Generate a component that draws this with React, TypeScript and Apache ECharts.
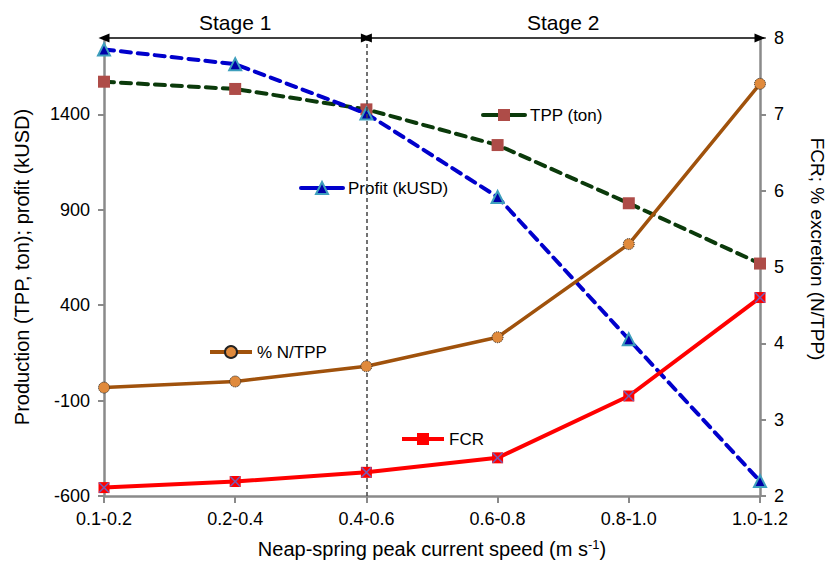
import React, { useEffect, useRef } from "react";
import * as echarts from "echarts";

const categories = ["0.1-0.2", "0.2-0.4", "0.4-0.6", "0.6-0.8", "0.8-1.0", "1.0-1.2"];
const tppTon = [1571, 1533, 1426, 1239, 934, 618];
const profitKUSD = [1740, 1663, 1404, 967, 221, -522];
const nPerTpp = [3.42, 3.5, 3.7, 4.08, 5.3, 7.4];
const fcr = [2.11, 2.19, 2.31, 2.5, 3.31, 4.6];
const leftRange = [-600, 1800];
const leftTicks = [-600, -100, 400, 900, 1400];
const rightRange = [2, 8];
const stageLabels = ["Stage 1", "Stage 2"];
const stageBounds = ["0.1-0.2", "0.4-0.6", "1.0-1.2"];
const seriesNames = ["TPP (ton)", "Profit (kUSD)", "% N/TPP", "FCR"];

const FONT = "'Liberation Sans', Arial, Helvetica, sans-serif";
const AXIS_COLOR = "#8a8a8a";
const X_PATH =
  "path://M0,1 L1,0 L5,4 L9,0 L10,1 L6,5 L10,9 L9,10 L5,6 L1,10 L0,9 L4,5 Z";

export default function App() {
  const ref = useRef<HTMLDivElement>(null);
  useEffect(() => {
    if (!ref.current) return;
    const chart = echarts.init(ref.current, undefined, { renderer: "svg" });
    const arrowEnd = (cat: string) => ({
      coord: [cat, leftRange[1]],
      symbol: "triangle",
      symbolSize: [9, 11],
    });
    const stageLines = stageLabels.map((label, i) => [
      {
        ...arrowEnd(stageBounds[i]),
        lineStyle: { color: "#000", type: "solid", width: 1.5 },
        label: {
          show: true,
          position: "middle",
          formatter: label,
          fontSize: 21,
          color: "#000",
          fontFamily: FONT,
          distance: 5,
        },
      },
      arrowEnd(stageBounds[i + 1]),
    ]);
    const legendBase = {
      orient: "horizontal",
      padding: 0,
      itemWidth: 42,
      itemHeight: 15,
      selectedMode: false,
      lineStyle: { type: "solid", width: 4 },
      textStyle: { fontSize: 17, color: "#000", fontFamily: FONT, lineHeight: 18 },
    };
    const option: any = {
      animation: false,
      backgroundColor: "#fff",
      textStyle: { fontFamily: FONT },
      grid: { left: 104, right: 68, top: 38, bottom: 62 },
      legend: [
        { ...legendBase, data: [seriesNames[0]], left: 481, top: 106 },
        { ...legendBase, data: [seriesNames[1]], left: 299, top: 179 },
        { ...legendBase, data: [seriesNames[2]], left: 208, top: 343 },
        { ...legendBase, data: [seriesNames[3]], left: 400, top: 430 },
      ],
      xAxis: {
        type: "category",
        data: categories,
        boundaryGap: false,
        axisLine: { onZero: false, lineStyle: { color: AXIS_COLOR, width: 2.5 } },
        axisTick: { alignWithLabel: true, length: 7, lineStyle: { color: AXIS_COLOR, width: 2 } },
        axisLabel: { fontSize: 18, color: "#000", margin: 14, fontFamily: FONT },
        splitLine: { show: false },
        name: "{a|Neap-spring peak current speed (m s}{b|-1}{a|)}",
        nameLocation: "middle",
        nameGap: 42,
        nameTextStyle: {
          rich: {
            a: { fontSize: 20, color: "#000", fontFamily: FONT, lineHeight: 22 },
            b: { fontSize: 13, color: "#000", fontFamily: FONT, verticalAlign: "top", lineHeight: 22 },
          },
        },
      },
      yAxis: [
        {
          type: "value",
          min: leftRange[0],
          max: leftRange[1],
          axisLine: { show: true, onZero: false, lineStyle: { color: AXIS_COLOR, width: 2.5 } },
          axisTick: { show: true, length: 6, customValues: leftTicks, lineStyle: { color: AXIS_COLOR, width: 2 } },
          axisLabel: {
            customValues: leftTicks,
            formatter: (v: number) => String(v),
            fontSize: 18,
            color: "#000",
            margin: 14,
            fontFamily: FONT,
          },
          splitLine: { show: false },
          name: "Production (TPP, ton); profit (kUSD)",
          nameLocation: "middle",
          nameGap: 72,
          nameTextStyle: { fontSize: 20, color: "#000", fontFamily: FONT },
        },
        {
          type: "value",
          min: rightRange[0],
          max: rightRange[1],
          interval: 1,
          position: "right",
          axisLine: { show: true, onZero: false, lineStyle: { color: AXIS_COLOR, width: 2.5 } },
          axisTick: { show: true, length: 6, lineStyle: { color: AXIS_COLOR, width: 2 } },
          axisLabel: { fontSize: 18, color: "#000", margin: 14, fontFamily: FONT },
          splitLine: { show: false },
          name: "FCR; % excretion (N/TPP)",
          nameLocation: "middle",
          nameRotate: -90,
          nameGap: 48,
          nameTextStyle: { fontSize: 19, color: "#000", fontFamily: FONT, padding: [0, 36, 0, 0] },
        },
      ],
      series: [
        {
          name: seriesNames[0],
          type: "line",
          yAxisIndex: 0,
          data: tppTon,
          symbol: "rect",
          symbolSize: 12,
          lineStyle: { color: "#0b3a0b", width: 4, type: [10, 7], cap: "round" },
          itemStyle: { color: "#ae4c48", borderWidth: 0 },
          z: 3,
          markLine: {
            silent: true,
            symbol: ["none", "none"],
            animation: false,
            label: { show: false },
            data: [
              {
                xAxis: stageBounds[1],
                lineStyle: { color: "#444", type: [4, 3], width: 1.5 },
                label: { show: false },
              },
              ...stageLines,
            ],
          },
        },
        {
          name: seriesNames[1],
          type: "line",
          yAxisIndex: 0,
          data: profitKUSD,
          symbol: "triangle",
          symbolSize: 12,
          lineStyle: { color: "#0000cc", width: 4, type: [10, 7], cap: "round" },
          itemStyle: { color: "#0000a8", borderColor: "#3e9fbd", borderWidth: 2 },
          z: 4,
        },
        {
          name: seriesNames[2],
          type: "line",
          yAxisIndex: 1,
          data: nPerTpp,
          symbol: "circle",
          symbolSize: 11,
          lineStyle: { color: "#a0520c", width: 3.5 },
          itemStyle: { color: "#e08a3c", borderColor: "#222", borderWidth: 1, borderType: "dotted" },
          z: 5,
        },
        {
          name: seriesNames[3],
          type: "line",
          yAxisIndex: 1,
          data: fcr,
          symbol: "rect",
          symbolSize: 11,
          lineStyle: { color: "#ff0000", width: 4 },
          itemStyle: { color: "#ff0000" },
          z: 6,
        },
        {
          name: "FCR-marker",
          type: "line",
          yAxisIndex: 1,
          data: fcr,
          symbol: X_PATH,
          symbolSize: 11,
          lineStyle: { opacity: 0, width: 0 },
          itemStyle: { color: "#7a5ab0" },
          silent: true,
          z: 7,
        },
      ],
    };
    chart.setOption(option);
    return () => chart.dispose();
  }, []);
  return (
    <div
      ref={ref}
      style={{ position: "fixed", left: 0, top: 0, width: 835, height: 564, background: "#fff" }}
    />
  );
}
